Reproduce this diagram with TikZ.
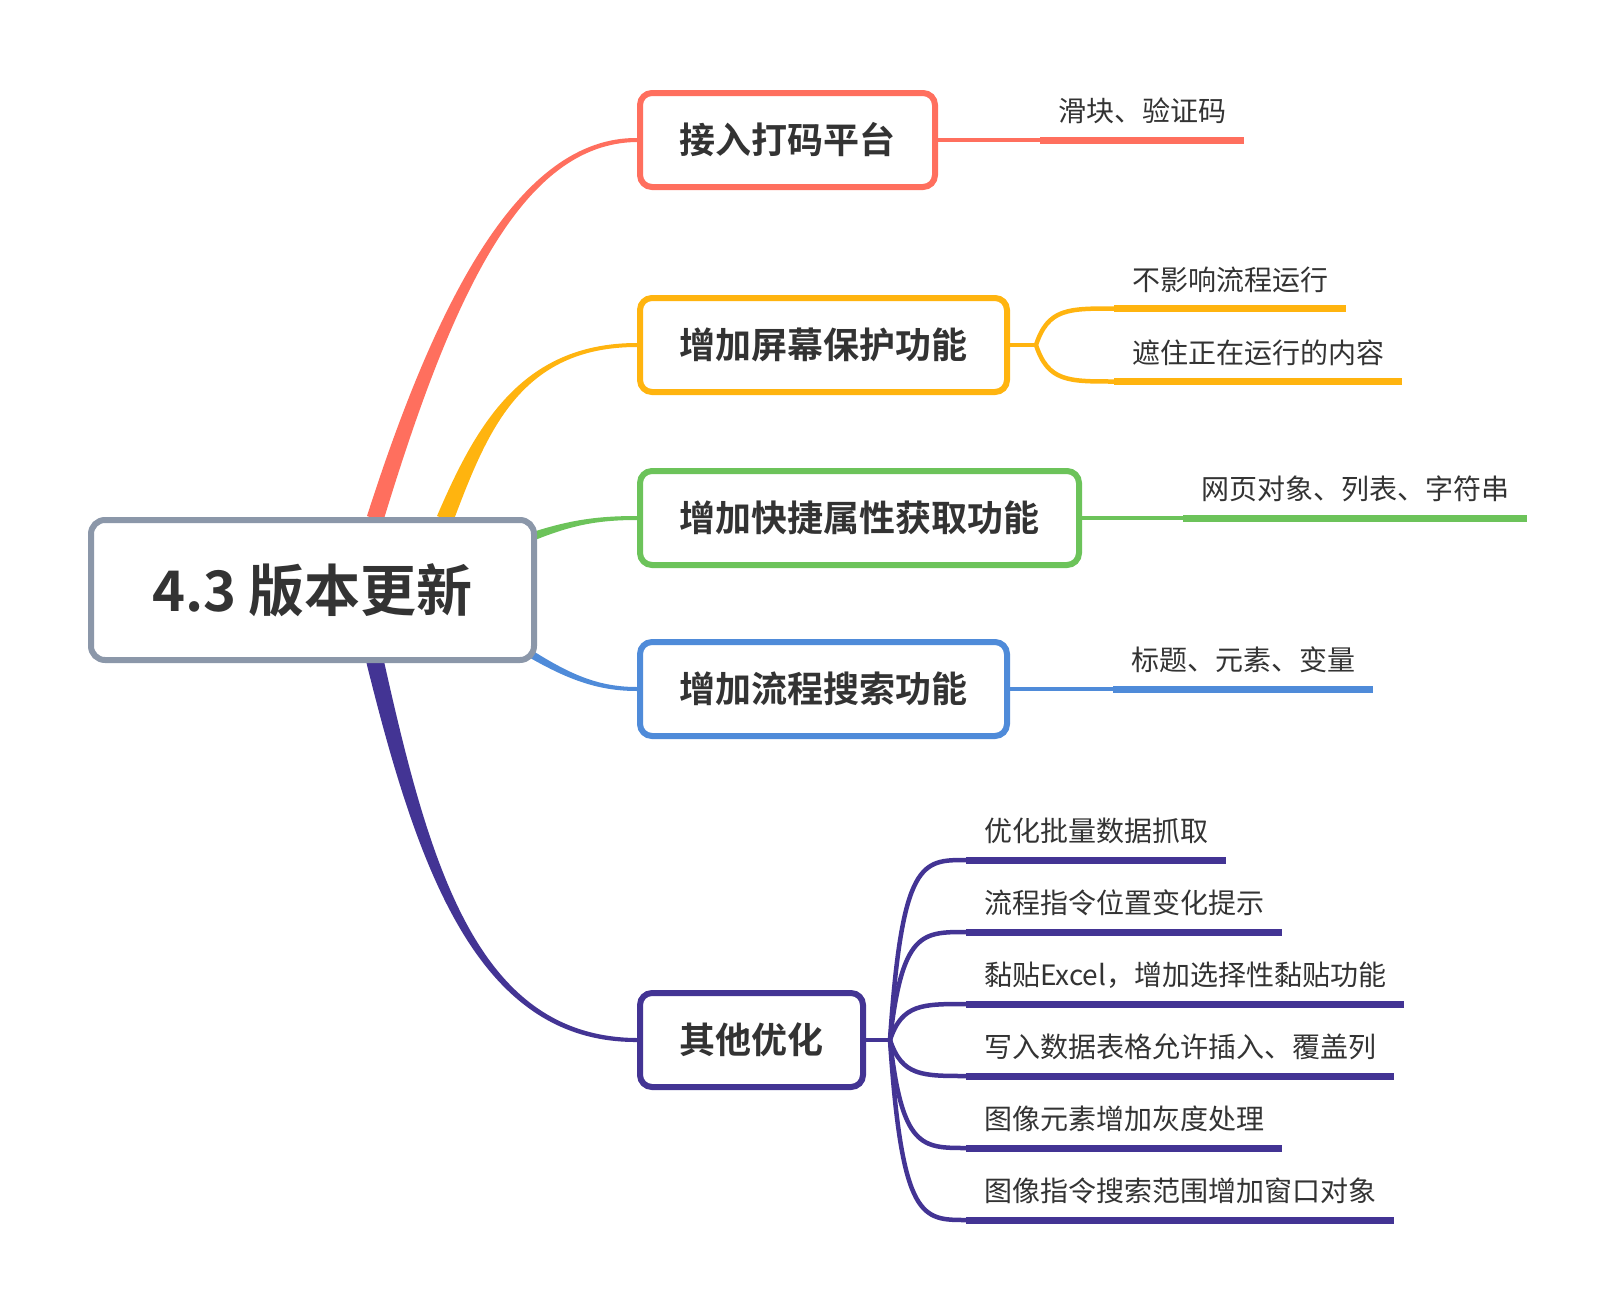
\documentclass[tikz,border=0pt]{standalone}
\usepackage{fontspec}
\setmainfont{Noto Sans CJK SC}[BoldFont={Noto Sans CJK SC Bold}]
\usepackage{tikz}
\usetikzlibrary{positioning, calc, backgrounds}

\definecolor{cred}{HTML}{FF6F5E}
\definecolor{cyellow}{HTML}{FFB40F}
\definecolor{cgreen}{HTML}{6CC35A}
\definecolor{cblue}{HTML}{4F8BD9}
\definecolor{cpurple}{HTML}{433494}
\definecolor{rootgray}{HTML}{8B97A9}
\definecolor{textgray}{HTML}{333333}

\tikzset{
  rootbox/.style={draw=rootgray, line width=6pt, rounded corners=14pt, fill=white,
    minimum width=443pt, minimum height=140pt, text=textgray,
    font=\fontsize{56}{60}\selectfont\bfseries},
  topicbox/.style={draw=#1, line width=6pt, rounded corners=12pt, fill=white,
    minimum height=94pt, inner xsep=39.5pt, anchor=west, text=textgray,
    font=\fontsize{36}{40}\selectfont\bfseries},
  subtopic/.style={inner xsep=18pt, inner ysep=18pt, text depth=0pt,
    anchor=south west, text=textgray, font=\fontsize{28}{32}\selectfont},
  underline/.style={draw=#1, line width=7pt},
  link/.style={draw=#1, line width=4.5pt},
}

\begin{document}
\begin{tikzpicture}[x=1pt, y=-1pt]
\useasboundingbox (0,0) rectangle (1615,1309);

% central topic and main topics
\node[rootbox] (root) at (312.5,590) {4.3 版本更新};

\node[topicbox=cred] (b1) at (637,140) {接入打码平台};
\node[topicbox=cyellow] (b2) at (637,345) {增加屏幕保护功能};
\node[topicbox=cgreen] (b3) at (637,518) {增加快捷属性获取功能};
\node[topicbox=cblue] (b4) at (637,689) {增加流程搜索功能};
\node[topicbox=cpurple] (b5) at (637,1040) {其他优化};

% tapered branches behind the boxes
\begin{scope}[on background layer]
\fill[cred] ($(root.north)+(54.5,-1)$) .. controls (437,298) and (520,137) .. ($(b1.west)+(0,-2)$)
  -- ($(b1.west)+(0,2)$) .. controls (520,143) and (450,302) .. ($(root.north)+(70.5,5)$) -- cycle;
\fill[cyellow] ($(root.north)+(124.5,-1)$) .. controls (475,428) and (520,343) .. ($(b2.west)+(0,-2)$)
  -- ($(b2.west)+(0,2)$) .. controls (520,347) and (487,432) .. ($(root.north)+(140.5,5)$) -- cycle;
\fill[cgreen] ($(root.east)+(-36,-47)$) .. controls (558,522) and (588,516) .. ($(b3.west)+(0,-2)$)
  -- ($(b3.west)+(0,2)$) .. controls (588,520) and (560,528) .. ($(root.east)+(-32,-37)$) -- cycle;
\fill[cblue] ($(root.east)+(-42,36)$) .. controls (556,667) and (588,687) .. ($(b4.west)+(0,-2)$)
  -- ($(b4.west)+(0,2)$) .. controls (588,691) and (552,673) .. ($(root.east)+(-46,44)$) -- cycle;
\fill[cpurple] ($(root.south)+(71,-4)$) .. controls (430,868) and (478,1037) .. ($(b5.west)+(0,-2)$)
  -- ($(b5.west)+(0,2)$) .. controls (478,1043) and (418,871) .. ($(root.south)+(54,0)$) -- cycle;
\end{scope}

% sub topics
\node[subtopic] (s1) at ($(b1.east)+(102,0)$) {滑块、验证码};
\draw[link=cred] (b1.east) -- (s1.south west);
\draw[underline=cred] (s1.south west) -- (s1.south east);

\coordinate (f2) at ($(b2.east)+(26,0)$);
\node[subtopic] (s21) at ($(b2.east)+(104,-36.5)$) {不影响流程运行};
\node[subtopic] (s22) at ($(b2.east)+(104,36.5)$) {遮住正在运行的内容};
\draw[link=cyellow] (b2.east) -- (f2);
\foreach \s in {s21,s22} {
  \draw[link=cyellow] (f2) .. controls ($(f2 |- \s.south west)+(12,0)$) and ($(f2 |- \s.south west)+(32,0)$) .. (\s.south west);
  \draw[underline=cyellow] (\s.south west) -- (\s.south east);
}

\node[subtopic] (s3) at ($(b3.east)+(101,0)$) {网页对象、列表、字符串};
\draw[link=cgreen] (b3.east) -- (s3.south west);
\draw[underline=cgreen] (s3.south west) -- (s3.south east);

\node[subtopic] (s4) at ($(b4.east)+(103,0)$) {标题、元素、变量};
\draw[link=cblue] (b4.east) -- (s4.south west);
\draw[underline=cblue] (s4.south west) -- (s4.south east);

\coordinate (f5) at ($(b5.east)+(24,0)$);
\draw[link=cpurple] (b5.east) -- (f5);
\foreach \t [count=\i] in {优化批量数据抓取, 流程指令位置变化提示, 黏贴Excel，增加选择性黏贴功能,
    写入数据表格允许插入、覆盖列, 图像元素增加灰度处理, 图像指令搜索范围增加窗口对象} {
  \node[subtopic] (s5\i) at ($(b5.east)+(100,{(\i-3.5)*72})$) {\t};
  \draw[link=cpurple] (f5) .. controls ($(f5 |- s5\i.south west)+(12,0)$) and ($(f5 |- s5\i.south west)+(32,0)$) .. (s5\i.south west);
  \draw[underline=cpurple] (s5\i.south west) -- (s5\i.south east);
}
\end{tikzpicture}
\end{document}
